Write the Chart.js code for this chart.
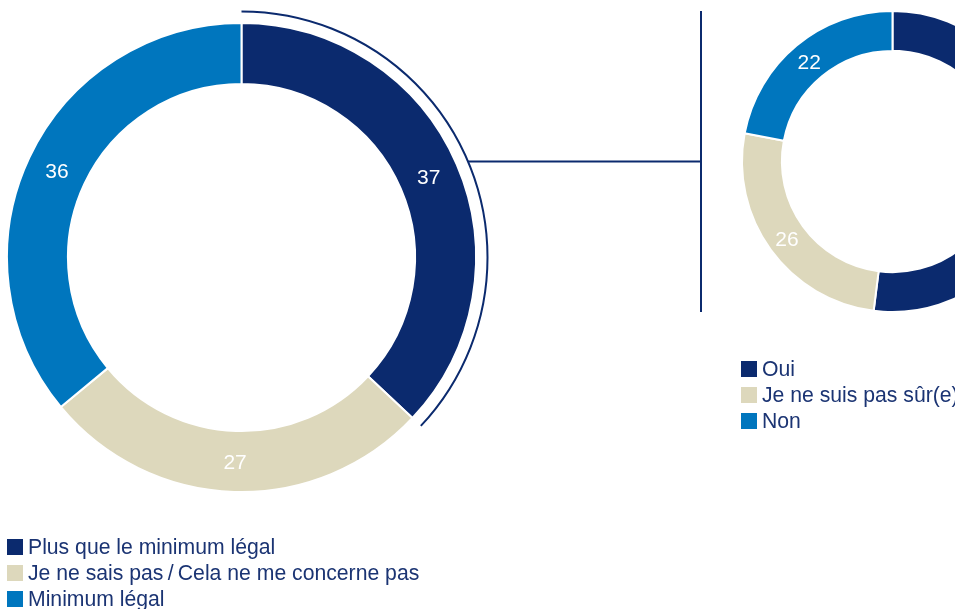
<!DOCTYPE html>
<html>
<head>
<meta charset="utf-8">
<script src="https://cdn.jsdelivr.net/npm/chart.js@4"></script>
<style>
html, body { margin: 0; padding: 0; background: #fff; width: 955px; height: 609px; overflow: hidden; position: relative; }
canvas { position: absolute; left: 0; top: 0; }
.legend { position: absolute; z-index: 5; font-family: "Liberation Sans", Arial, sans-serif; font-size: 21.2px; color: #1b3473; }
.legend div { height: 26px; white-space: nowrap; display: flex; align-items: center; }
.legend .box { display: inline-block; width: 16px; height: 16px; margin-right: 5px; flex: none; }
</style>
</head>
<body>
<canvas id="leftChart" width="955" height="609"></canvas>
<canvas id="rightChart" width="1100" height="609"></canvas>
<div class="legend" id="leftLegend" style="left:7px; top:534px;"></div>
<div class="legend" id="rightLegend" style="left:741px; top:356px;"></div>
<script>
const leftLabels = ['Plus que le minimum légal', 'Je ne sais pas\u2009/\u2009Cela ne me concerne pas', 'Minimum légal'];
const leftValues = [37, 27, 36];
const rightLabels = ['Oui', 'Je ne suis pas sûr(e)', 'Non'];
const rightValues = [52, 26, 22];
const colors = ['#0b2a6e', '#ddd8bc', '#0076be'];

function buildLegend(id, labels) {
     let el = document.getElementById(id);
     labels.forEach(function(txt, i){
          let row = document.createElement('div');
          let box = document.createElement('span');
          box.className = 'box';
          box.style.background = colors[i];
          row.appendChild(box);
          row.appendChild(document.createTextNode(txt));
          el.appendChild(row);
     });
}
buildLegend('leftLegend', leftLabels);
buildLegend('rightLegend', rightLabels);

// white numbers in the middle of each slice
const valueLabels = {
     id: 'valueLabels',
     afterDatasetsDraw(chart) {
          const ctx = chart.ctx;
          const meta = chart.getDatasetMeta(0);
          ctx.save();
          ctx.fillStyle = '#fff';
          ctx.font = '21px "Liberation Sans", Arial, sans-serif';
          ctx.textAlign = 'center';
          ctx.textBaseline = 'middle';
          meta.data.forEach(function(arc, i){
               const p = arc.getCenterPoint();
               ctx.fillText(chart.data.datasets[0].data[i], p.x, p.y + 2);
          });
          ctx.restore();
     }
};

function donutOptions(cutout, padding) {
     return {
          responsive: false,
          animation: false,
          cutout: cutout,
          layout: { padding: padding },
          plugins: { legend: { display: false }, tooltip: { enabled: false } }
     };
}

var leftChart = new Chart(document.getElementById('leftChart').getContext('2d'), {
     type: 'doughnut',
     data: {
          labels: leftLabels,
          datasets: [{ data: leftValues, backgroundColor: colors, borderColor: '#fff', borderWidth: 2 }]
     },
     options: donutOptions('74%', { left: 6, top: 22, right: 478, bottom: 116 }),
     plugins: [valueLabels]
});

// arc around the first slice + the lines going to the second donut
const connector = {
     id: 'connector',
     afterDraw(chart) {
          const a = leftChart.getDatasetMeta(0).data[0];
          const r = chart.getDatasetMeta(0).data[0];
          const R = a.outerRadius + 11.5;
          const ctx = chart.ctx;
          ctx.save();
          ctx.strokeStyle = colors[0];
          ctx.lineWidth = 2;
          ctx.beginPath();
          ctx.arc(a.x, a.y, R, a.startAngle, a.endAngle);
          ctx.stroke();
          const vx = r.x - r.outerRadius - 41;
          const dy = r.y - a.y;
          ctx.beginPath();
          ctx.moveTo(a.x + Math.sqrt(R * R - dy * dy), r.y);
          ctx.lineTo(vx, r.y);
          ctx.moveTo(vx, r.y - r.outerRadius);
          ctx.lineTo(vx, r.y + r.outerRadius);
          ctx.stroke();
          ctx.restore();
     }
};

var rightChart = new Chart(document.getElementById('rightChart').getContext('2d'), {
     type: 'doughnut',
     data: {
          labels: rightLabels,
          datasets: [{ data: rightValues, backgroundColor: colors, borderColor: '#fff', borderWidth: 2 }]
     },
     options: donutOptions('73.5%', { left: 741, top: 10, right: 56, bottom: 296 }),
     plugins: [valueLabels, connector]
});
</script>
</body>
</html>
